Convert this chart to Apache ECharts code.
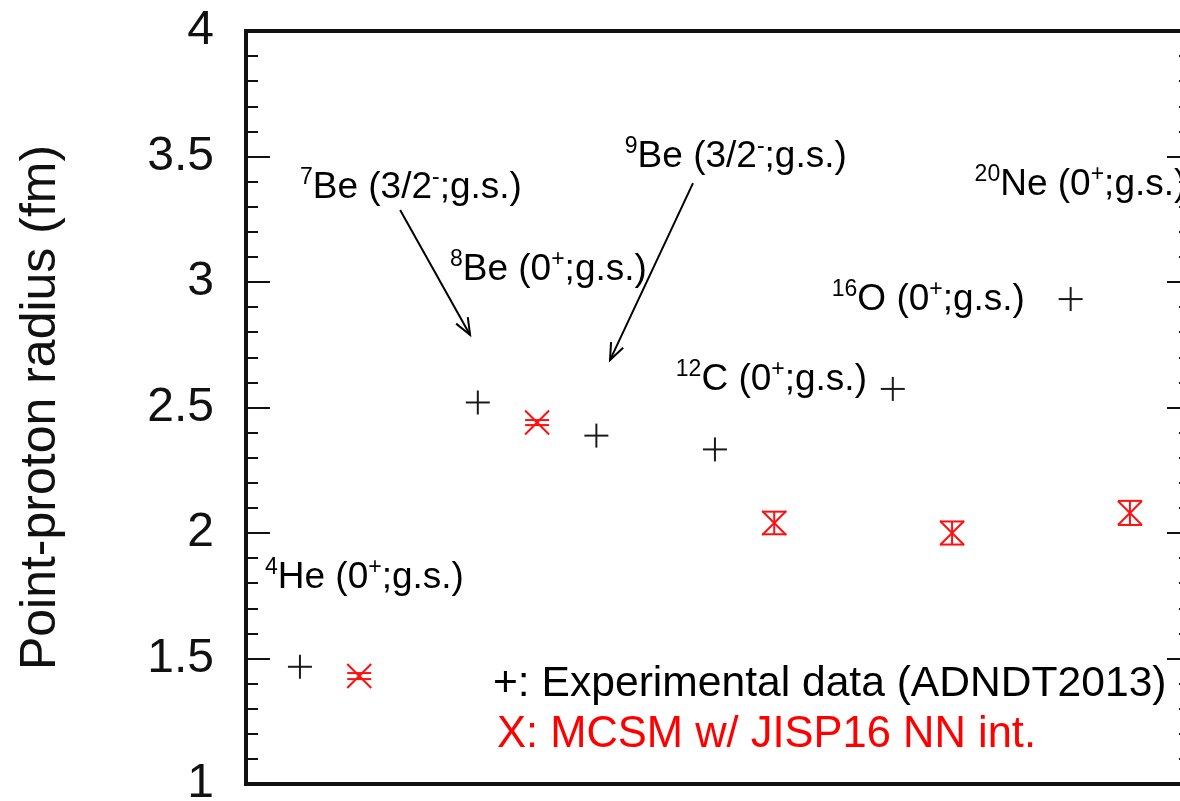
<!DOCTYPE html>
<html>
<head>
<meta charset="utf-8">
<script src="https://cdn.jsdelivr.net/npm/echarts@6/dist/echarts.min.js"></script>
<style>
  html, body { margin: 0; padding: 0; background: #fff; }
  #chart { width: 1180px; height: 801px; }
</style>
</head>
<body>
<div id="chart"></div>
<script>
// Experimental point-proton radii (ADNDT2013), by nucleus slot along the x axis
const expSlot = [0, 3, 5, 7, 10, 13];
const expRadius = [1.467, 2.52, 2.388, 2.333, 2.574, 2.932];

// MCSM results with the JISP16 NN interaction, with their uncertainties
const mcsmSlot = [1, 4, 8, 11, 14];
const mcsmRadius = [1.43, 2.44, 2.04, 2.00, 2.08];
const mcsmError = [0.012, 0.01, 0.045, 0.046, 0.048];

// State labels: mass number, element, spin-parity
const noteMass = ['4', '7', '8', '9', '12', '16', '20'];
const noteElem = ['He', 'Be', 'Be', 'Be', 'C', 'O', 'Ne'];
const noteSpin = [['0', '+'], ['3/2', '-'], ['0', '+'], ['3/2', '-'], ['0', '+'], ['0', '+'], ['0', '+']];
// label anchors (left edge, vertical middle) in data coordinates
const noteAt = [[-0.59, 1.82], [0.0, 3.375], [2.53, 3.048], [5.48, 3.498], [6.34, 2.61], [8.97, 2.928], [11.38, 3.386]];

// arrows pointing from the 7Be / 9Be labels toward their points
const arrows = [[[1.69, 3.287], [2.87, 2.789]], [[6.63, 3.394], [5.23, 2.689]]];

const yTicks = [1, 1.5, 2, 2.5, 3, 3.5, 4];

const FONT = '"Liberation Sans", Arial, Helvetica, sans-serif';
const chart = echarts.init(document.getElementById('chart'), null, { renderer: 'canvas' });

const expData = expSlot.map((x, i) => [x, expRadius[i]]);
const mcsmData = mcsmSlot.map((x, i) => [x, mcsmRadius[i], mcsmError[i]]);
const noteData = noteAt.map((p, i) => [p[0], p[1], i]);
const arrowData = arrows.map(a => [a[0][0], a[0][1], a[1][0], a[1][1]]);

const richStyles = {
  m: { fontSize: 37, fontFamily: FONT, color: '#000', lineHeight: 44 },
  s: { fontSize: 23, fontFamily: FONT, color: '#000', lineHeight: 44, verticalAlign: 'top', padding: [0, 0, 16, 0] }
};

function noteText(i) {
  return '{s|' + noteMass[i] + '}{m|' + noteElem[i] + ' (' + noteSpin[i][0] + '}{s|' + noteSpin[i][1] + '}{m|;g.s.)}';
}

const yAxisBase = {
  type: 'value',
  min: yTicks[0],
  max: yTicks[yTicks.length - 1],
  interval: 0.5,
  axisLine: { show: false, onZero: false },
  splitLine: { show: false },
  axisTick: { show: true, inside: true, length: 24, lineStyle: { color: '#111', width: 2 } },
  minorTick: { show: true, splitNumber: 5, length: 12, lineStyle: { color: '#111', width: 2 } }
};

const option = {
  backgroundColor: '#fff',
  animation: false,
  grid: {
    left: 246, top: 31, width: 945, height: 753,
    outerBoundsMode: 'none', containLabel: false,
    show: true, borderColor: '#111', borderWidth: 4, backgroundColor: 'transparent'
  },
  xAxis: {
    type: 'value', min: -0.91, max: 15.03,
    axisLine: { show: false, onZero: false }, axisTick: { show: false }, axisLabel: { show: false }, splitLine: { show: false }
  },
  yAxis: [
    Object.assign({}, yAxisBase, {
      position: 'left',
      name: 'Point-proton radius (fm)',
      nameLocation: 'middle',
      nameGap: 180,
      nameTextStyle: { fontSize: 50, fontFamily: FONT, color: '#111' },
      axisLabel: {
        show: true, margin: 32, fontSize: 48, fontFamily: FONT, color: '#111',
        formatter: v => String(v)
      }
    }),
    Object.assign({}, yAxisBase, {
      position: 'right',
      axisLabel: { show: false }
    })
  ],
  series: [
    {
      name: 'Experiment',
      type: 'custom',
      data: expData,
      renderItem: function (params, api) {
        const p = api.coord([api.value(0), api.value(1)]);
        const h = 12;
        const st = { stroke: '#1a1a1a', lineWidth: 2 };
        return {
          type: 'group',
          children: [
            { type: 'line', shape: { x1: p[0] - h, y1: p[1], x2: p[0] + h, y2: p[1] }, style: st },
            { type: 'line', shape: { x1: p[0], y1: p[1] - h, x2: p[0], y2: p[1] + h }, style: st }
          ]
        };
      }
    },
    {
      name: 'MCSM',
      type: 'custom',
      data: mcsmData,
      renderItem: function (params, api) {
        const x = api.value(0), y = api.value(1), e = api.value(2);
        const p = api.coord([x, y]);
        const top = api.coord([x, y + e]);
        const bot = api.coord([x, y - e]);
        const h = 12;
        const st = { stroke: '#ff1010', lineWidth: 2 };
        return {
          type: 'group',
          children: [
            { type: 'line', shape: { x1: p[0] - h, y1: p[1] - h, x2: p[0] + h, y2: p[1] + h }, style: st },
            { type: 'line', shape: { x1: p[0] - h, y1: p[1] + h, x2: p[0] + h, y2: p[1] - h }, style: st },
            { type: 'line', shape: { x1: p[0], y1: top[1], x2: p[0], y2: bot[1] }, style: st },
            { type: 'line', shape: { x1: p[0] - h, y1: top[1], x2: p[0] + h, y2: top[1] }, style: st },
            { type: 'line', shape: { x1: p[0] - h, y1: bot[1], x2: p[0] + h, y2: bot[1] }, style: st }
          ]
        };
      }
    },
    {
      name: 'Notes',
      type: 'custom',
      data: noteData,
      silent: true,
      renderItem: function (params, api) {
        const p = api.coord([api.value(0), api.value(1)]);
        const i = api.value(2);
        return {
          type: 'text',
          x: p[0], y: p[1],
          style: {
            text: noteText(i),
            rich: richStyles,
            align: 'left',
            verticalAlign: 'middle'
          }
        };
      }
    },
    {
      name: 'Arrows',
      type: 'custom',
      data: arrowData,
      silent: true,
      renderItem: function (params, api) {
        const a = api.coord([api.value(0), api.value(1)]);
        const b = api.coord([api.value(2), api.value(3)]);
        const ang = Math.atan2(b[1] - a[1], b[0] - a[0]);
        const len = 18, spread = 0.38;
        const l1 = [b[0] - len * Math.cos(ang - spread), b[1] - len * Math.sin(ang - spread)];
        const l2 = [b[0] - len * Math.cos(ang + spread), b[1] - len * Math.sin(ang + spread)];
        const st = { stroke: '#000', lineWidth: 2 };
        return {
          type: 'group',
          children: [
            { type: 'line', shape: { x1: a[0], y1: a[1], x2: b[0], y2: b[1] }, style: st },
            { type: 'polyline', shape: { points: [l1, b, l2] }, style: Object.assign({ fill: 'none' }, st) }
          ]
        };
      }
    }
  ],
  graphic: [
    {
      type: 'text', left: 493, top: 663,
      style: { text: '+: Experimental data (ADNDT2013)', fontSize: 42.6, fontFamily: FONT, fill: '#000' }
    },
    {
      type: 'text', left: 497, top: 713,
      style: { text: 'X: MCSM w/ JISP16 NN int.', fontSize: 43.5, fontFamily: FONT, fill: '#ff0000' }
    }
  ]
};

chart.setOption(option);
</script>
</body>
</html>
